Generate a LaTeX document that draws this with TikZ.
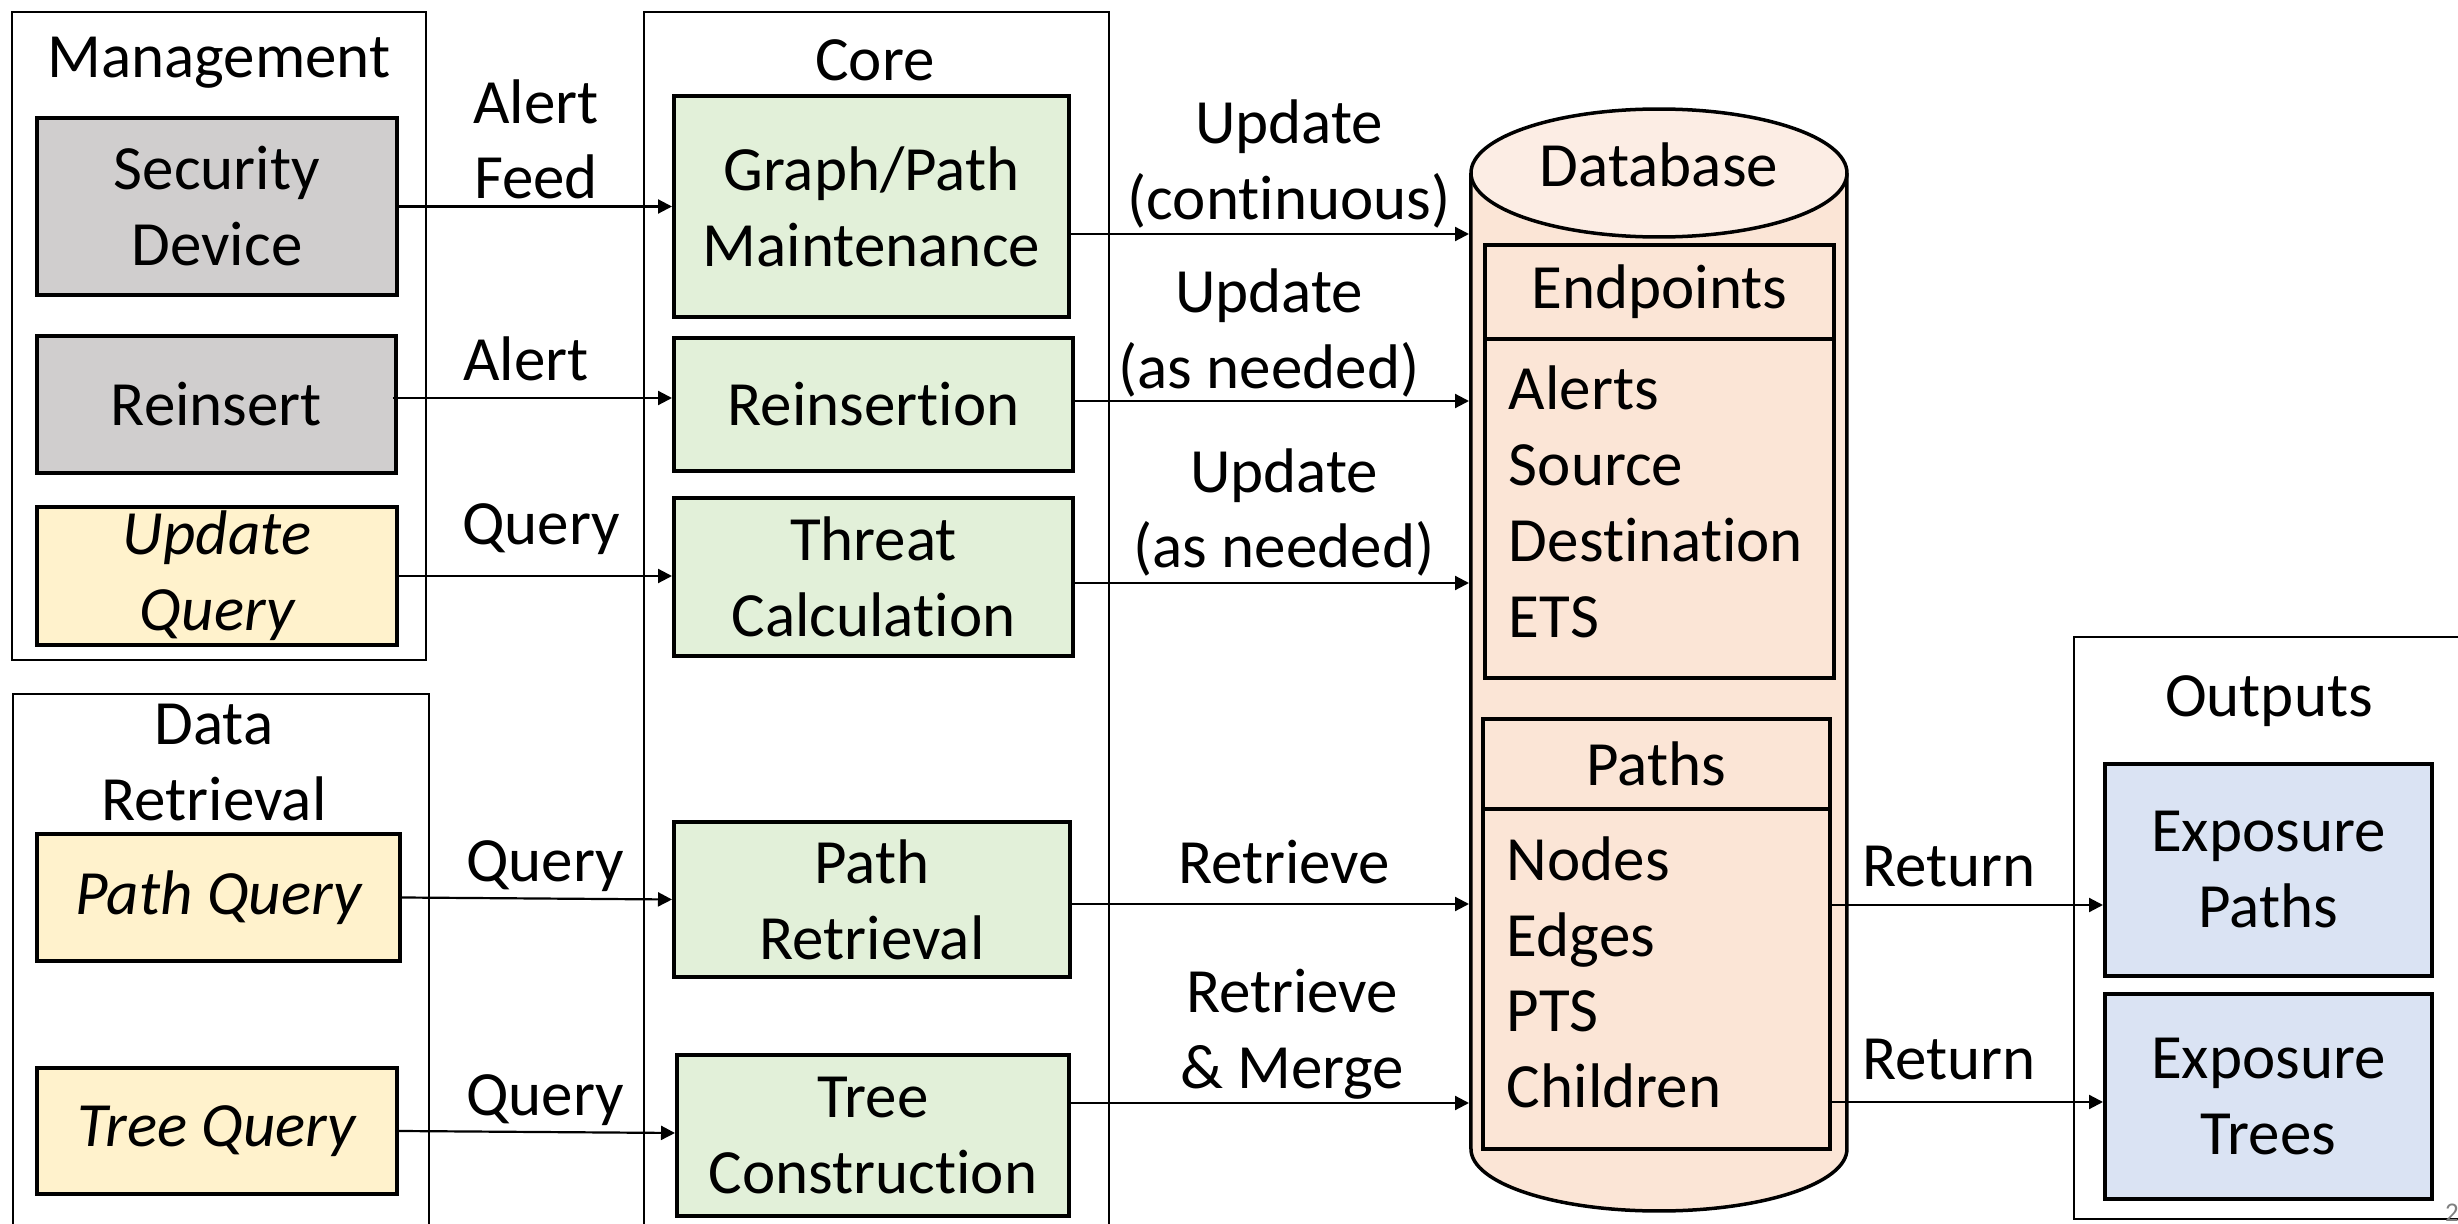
\documentclass[tikz,border=0pt]{standalone}
\usepackage{fontspec}
\setmainfont{Carlito}[Ligatures=NoCommon]
\usetikzlibrary{arrows.meta}

\definecolor{cgray}{HTML}{D0CECE}
\definecolor{cyellow}{HTML}{FFF2CC}
\definecolor{cgreen}{HTML}{E2F0D9}
\definecolor{cblue}{HTML}{DAE3F3}
\definecolor{dbbody}{HTML}{FBE5D6}
\definecolor{dbtop}{HTML}{FCEDE4}
\definecolor{pagegray}{HTML}{7F7F7F}

\newcommand\dfont{\fontsize{6.3}{7.6}\selectfont}

\begin{document}
\begin{tikzpicture}[
  x=0.1pt, y=-0.1pt,
  every node/.style={font=\dfont, inner sep=0pt},
  grp/.style={draw, line width=0.22pt},
  sbox/.style={draw, line width=0.4pt, align=center},
  comp/.style={draw, line width=0.4pt, fill=dbbody},
  lbl/.style={align=center, anchor=base},
  arr/.style={line width=0.22pt, -{Triangle[length=1.4pt, width=1.4pt]}},
]
\useasboundingbox (0,0) rectangle (2458,1224);

% group frames (multi-line texts are placed by the baseline of their last line)
\node[grp, minimum width=41.4pt, minimum height=64.8pt] (mgmt) at (219,336) {};
\node[grp, minimum width=41.6pt, minimum height=54.6pt] (dret) at (221,967) {};
\node[grp, minimum width=46.5pt, minimum height=122.8pt] (core) at (876.5,626) {};
\node[grp, minimum width=39.6pt, minimum height=58.2pt] (outs) at (2272,928) {};

\node[anchor=base] (tmgmt) at (219,77) {Management};
\node[lbl] (tdret) at (214,821) {Data\\Retrieval};
\node[anchor=base] (tcore) at (875,81) {Core};
\node[anchor=base] (touts) at (2269,717) {Outputs};

% management and retrieval requests
\node[sbox, fill=cgray, minimum width=36pt, minimum height=17.7pt] (secdev) at (217,206.5) {Security\\Device};
\node[sbox, fill=cgray, minimum width=35.9pt, minimum height=13.7pt] (reins) at (216.5,404.5) {Reinsert};
\node[sbox, fill=cyellow, minimum width=36pt, minimum height=13.8pt] (updq) at (217,576) {\itshape Update\\\itshape Query};
\node[sbox, fill=cyellow, minimum width=36.3pt, minimum height=12.7pt] (pathq) at (218.5,897.5) {\itshape Path Query};
\node[sbox, fill=cyellow, minimum width=36pt, minimum height=12.6pt] (treeq) at (217,1131) {\itshape Tree Query};

% core processes
\node[sbox, fill=cgreen, minimum width=39.5pt, minimum height=22.1pt] (gpm) at (871.5,206.5) {Graph/Path\\Maintenance};
\node[sbox, fill=cgreen, minimum width=39.9pt, minimum height=13.3pt] (reinsertion) at (873.5,404.5) {Reinsertion};
\node[sbox, fill=cgreen, minimum width=39.9pt, minimum height=15.8pt] (threat) at (873.5,577) {Threat\\Calculation};
\node[sbox, fill=cgreen, minimum width=39.6pt, minimum height=15.5pt] (pathret) at (872,899.5) {Path\\Retrieval};
\node[sbox, fill=cgreen, minimum width=39.2pt, minimum height=16.1pt] (treecon) at (873,1135.5) {Tree\\Construction};

% database cylinder
\draw[line width=0.35pt, fill=dbbody] (1471,173) -- (1471,1149)
  arc[x radius=18.8pt, y radius=6.2pt, start angle=180, end angle=360] -- (1847,173);
\draw[line width=0.35pt, fill=dbtop] (1659,173) ellipse [x radius=18.8pt, y radius=6.4pt];
\node[minimum width=37.6pt, minimum height=110.2pt] (db) at (1659,660) {};
\node[anchor=base] (tdb) at (1659,186) {Database};

\node[comp, minimum width=34.9pt, minimum height=9.4pt] (ephead) at (1659.5,292) {Endpoints};
\node[comp, minimum width=34.9pt, minimum height=33.9pt] (epbody) at (1659.5,508.5) {};
\node[anchor=base west, align=left] (eplist) at (1507,637) {Alerts\\Source\\Destination\\ETS};

\node[comp, minimum width=34.7pt, minimum height=9pt] (pthead) at (1656.5,764) {Paths};
\node[comp, minimum width=34.7pt, minimum height=34pt] (ptbody) at (1656.5,979) {};
\node[anchor=base west, align=left] (ptlist) at (1505,1108) {Nodes\\Edges\\PTS\\Children};

% outputs
\node[sbox, fill=cblue, minimum width=32.7pt, minimum height=21.2pt] (expaths) at (2268.5,870) {Exposure\\Paths};
\node[sbox, fill=cblue, minimum width=32.7pt, minimum height=20.5pt] (extrees) at (2268.5,1096.5) {Exposure\\Trees};

% requests into the core
\draw[arr] (secdev.east) -- (gpm.west);
\draw[arr] ([yshift=0.65pt, xshift=-0.5pt]reins.east) -- ([yshift=0.65pt]reins.east -| reinsertion.west);
\draw[arr] (updq.east) -- (updq.east -| threat.west);
\draw[arr] (pathq.east) -- (pathret.west);
\draw[arr] (treeq.east) -- ([yshift=0.25pt]treecon.west);

% core to database
\draw[arr] ([yshift=-2.75pt]gpm.east) -- ([yshift=-2.75pt]gpm.east -| db.west);
\draw[arr] ([yshift=0.35pt]reinsertion.east) -- ([yshift=0.35pt]reinsertion.east -| db.west);
\draw[arr] ([yshift=-0.6pt]threat.east) -- ([yshift=-0.6pt]threat.east -| db.west);
\draw[arr] ([yshift=-0.45pt]pathret.east) -- ([yshift=-0.45pt]pathret.east -| db.west);
\draw[arr] ([yshift=3.25pt]treecon.east) -- ([yshift=3.25pt]treecon.east -| db.west);

% database to outputs
\draw[arr] ([yshift=7.4pt]ptbody.east) -- ([yshift=7.4pt]ptbody.east -| expaths.west);
\draw[arr] ([yshift=-12.3pt,xshift=-0.4pt]ptbody.east) -- ([yshift=-12.3pt]ptbody.east -| extrees.west);

% connector labels
\node[lbl] (lfeed) at (536,199) {Alert\\Feed};
\node[lbl] (lalert) at (526,381) {Alert};
\node[lbl] (lq1) at (541,544) {Query};
\node[lbl] (lq2) at (545,882) {Query};
\node[lbl] (lq3) at (545,1115) {Query};
\node[lbl] (lu1) at (1289,219) {Update\\(continuous)};
\node[lbl] (lu2) at (1269,388) {Update\\(as needed)};
\node[lbl] (lu3) at (1284,568) {Update\\(as needed)};
\node[lbl] (lr1) at (1284,883) {Retrieve};
\node[lbl] (lr2) at (1292,1089) {Retrieve\\\& Merge};
\node[lbl] (lret1) at (1949,886) {Return};
\node[lbl] (lret2) at (1949,1080) {Return};

% page number
\node[anchor=base west, font=\fontsize{2.7}{3}\selectfont, text=pagegray] (pgno) at (2443,1222) {2};
\end{tikzpicture}
\end{document}
